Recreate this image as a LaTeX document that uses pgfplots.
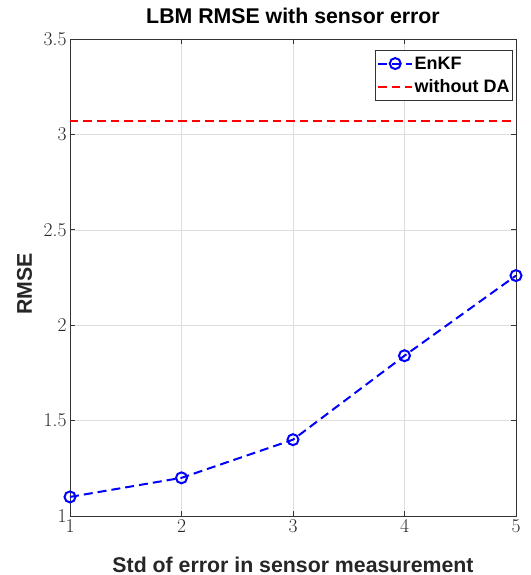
\documentclass[border=0pt]{standalone}
\usepackage{fontspec}
\newfontfamily\hv{Liberation Sans}
\usepackage{pgfplots}
\pgfplotsset{compat=1.18}

\begin{document}
\begin{tikzpicture}
\begin{axis}[
    scale only axis,
    width=446pt, height=477pt,
    xmin=1, xmax=5, ymin=1, ymax=3.5,
    xtick={1,2,3,4,5},
    ytick={1,1.5,2,2.5,3,3.5},
    /pgf/number format/assume math mode=true,
    tick label style={font=\fontsize{19.5}{22}\selectfont, color=black!85},
    grid=major,
    major grid style={black!13, line width=0.5pt},
    axis line style={black!80, line width=0.6pt},
    tick style={black!80, line width=0.6pt},
    major tick length=5pt,
    tick align=inside,
    title={LBM RMSE with sensor error},
    title style={font=\hv\bfseries\fontsize{21.3}{24}\selectfont,
        at={(axis description cs:0.5,1.0189)}, anchor=base, inner sep=0pt},
    xlabel={Std of error in sensor measurement},
    ylabel={RMSE},
    label style={font=\hv\bfseries\fontsize{21.3}{24}\selectfont, color=black!85, inner sep=0pt},
    xlabel style={at={(axis description cs:0.5,-0.1174)}, anchor=base, text depth=0pt},
    ylabel style={at={(axis description cs:-0.0852,0.487)}, anchor=base},
    legend style={at={(0.9933,0.9769)}, anchor=north east,
        font=\hv\bfseries\fontsize{18}{20}\selectfont,
        draw=black!80, line width=0.6pt, inner sep=1.5pt,
        nodes={inner sep=1.5pt, text height=16pt, text depth=4.5pt}},
    legend cell align=left,
    legend image code/.code={
        \draw[mark repeat=2, mark phase=2] plot coordinates {(0pt,0pt) (17pt,0pt) (34pt,0pt)};
    },
]
\addplot[blue, line width=2pt, dash pattern=on 9pt off 5pt,
    mark=o, mark size=5.5pt, mark options={solid}]
    coordinates {(1,1.10) (2,1.20) (3,1.40) (4,1.84) (5,2.26)};
\addplot[red, line width=2pt, dash pattern=on 8.5pt off 5pt]
    coordinates {(1,3.07) (5,3.07)};
\legend{EnKF, without DA}
\end{axis}
\path (current axis.south west) ++(-70pt,-59pt);
\path (current axis.north east) ++(15pt,39pt);
\end{tikzpicture}
\end{document}
